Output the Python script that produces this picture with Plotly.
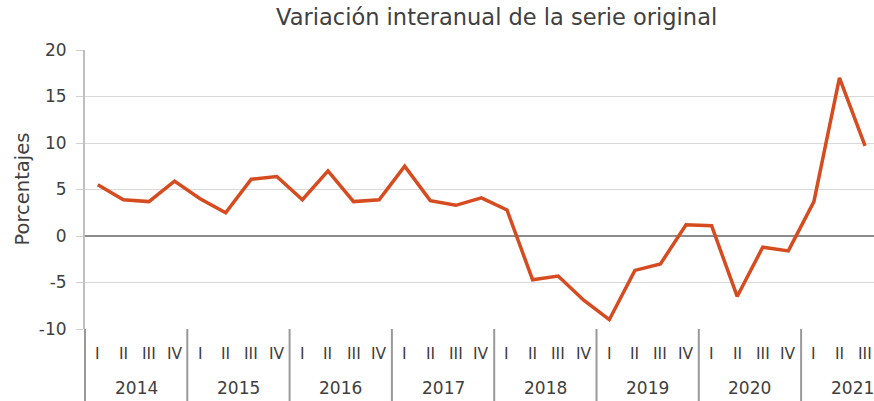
import plotly.graph_objects as go

years = ["2014", "2015", "2016", "2017", "2018", "2019", "2020", "2021"]
quarters = ["I", "II", "III", "IV"]
values = [
    5.5, 3.9, 3.7, 5.9,
    4.0, 2.5, 6.1, 6.4,
    3.9, 7.0, 3.7, 3.9,
    7.5, 3.8, 3.3, 4.1,
    2.8, -4.7, -4.3, -6.9,
    -9.0, -3.7, -3.0, 1.2,
    1.1, -6.5, -1.2, -1.6,
    3.7, 17.0, 9.7,
]
y_ticks = [-10, -5, 0, 5, 10, 15, 20]
y_tick_text = ["-10", "-5", "0", "5", "10", "15", "20"]
title = "Variación interanual de la serie original"
y_title = "Porcentajes"

n = len(values)
xs = list(range(n))
q_labels = [quarters[i % 4] for i in xs]

FONT = "DejaVu Sans"
TXT = "#404040"
LINE = "#D64B1F"
x_range = [-0.5, 30.35]

fig = go.Figure()
fig.add_trace(go.Scatter(x=xs, y=values, mode="lines",
                         line=dict(color=LINE, width=3.5), hoverinfo="skip"))

annotations = []
for i, q in zip(xs, q_labels):
    annotations.append(dict(x=i, y=0, xref="x", yref="paper", text=q,
                            showarrow=False, yshift=-25, yanchor="middle",
                            font=dict(family=FONT, size=15.5, color=TXT)))
for k, yr in enumerate(years):
    annotations.append(dict(x=(8 * k + 3) / 2, y=0, xref="x", yref="paper",
                            text=yr, showarrow=False, yshift=-59, yanchor="middle",
                            font=dict(family=FONT, size=17, color=TXT)))
annotations.append(dict(x=0, y=0.5, xref="paper", yref="paper", text=y_title,
                        textangle=-90, showarrow=False, xshift=-63,
                        xanchor="center", yanchor="middle",
                        font=dict(family=FONT, size=19.5, color=TXT)))

shapes = []
span = x_range[1] - x_range[0]
for k in range(len(years) + 1):
    xb = 4 * k - 0.5
    if xb > x_range[1]:
        continue
    px = (xb - x_range[0]) / span
    shapes.append(dict(type="line", xref="paper", yref="paper", x0=px, x1=px,
                       y0=0, y1=-0.3, line=dict(color="#999999", width=2)))

fig.update_layout(
    width=874, height=401,
    margin=dict(l=85, r=0, t=50, b=72, autoexpand=False),
    paper_bgcolor="white", plot_bgcolor="white",
    showlegend=False,
    title=dict(text=title, x=456 / 874, xanchor="center", y=1 - 17 / 401,
               yanchor="middle", xref="paper", yref="container",
               font=dict(family=FONT, size=22.5, color=TXT)),
    xaxis=dict(range=x_range, showticklabels=False, showgrid=False,
               zeroline=False, ticks="", showline=False, fixedrange=True,
               automargin=False),
    yaxis=dict(range=[-10, 20], tickvals=y_ticks, ticktext=y_tick_text,
               showgrid=True, gridcolor="#D9D9D9", gridwidth=1,
               zeroline=True, zerolinecolor="#8C8C8C", zerolinewidth=2,
               showline=True, linecolor="#BFBFBF", linewidth=2,
               ticks="outside", ticklen=7, tickcolor="#D0D0D0",
               ticklabelstandoff=6, automargin=False,
               tickfont=dict(family=FONT, size=17, color=TXT),
               fixedrange=True),
    annotations=annotations,
    shapes=shapes,
)

fig.write_html("out.html", config={"displayModeBar": False},
               post_script="document.body.style.margin='0';document.body.style.overflow='hidden';")
